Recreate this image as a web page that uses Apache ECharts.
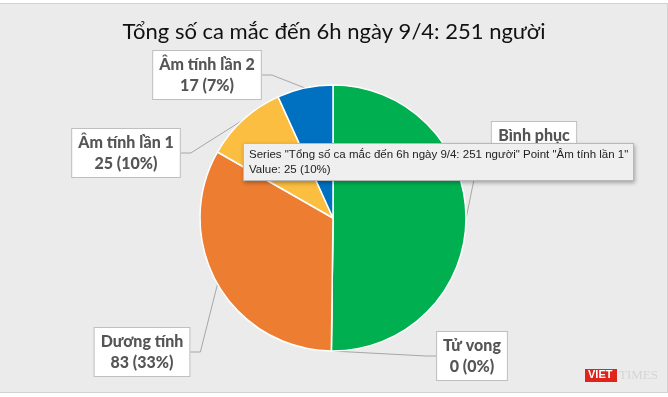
<!DOCTYPE html>
<html>
<head>
<meta charset="utf-8">
<script src="https://cdn.jsdelivr.net/npm/echarts@6/dist/echarts.min.js"></script>
<style>
  html, body { margin: 0; padding: 0; background: #fff; }
  #panel { position: absolute; left: -1px; top: 3px; width: 667px; height: 388px; background: #EBEBEB; border: 1px solid #D2D2D2; }
  #main { position: absolute; left: 0; top: 0; width: 668px; height: 397px; }
</style>
</head>
<body>
<div id="panel"></div>
<div id="main"></div>
<script>
// số liệu
const seriesName = 'Tổng số ca mắc đến 6h ngày 9/4: 251 người';
const categories = ['Bình phục', 'Tử vong', 'Dương tính', 'Âm tính lần 1', 'Âm tính lần 2'];
const values = [126, 0, 83, 25, 17];
const sliceColors = ['#00B050', '#A5A5A5', '#ED7D31', '#FBBE40', '#0070C0'];
const hoverIndex = 3; // tooltip đang hiện

// vị trí nhãn (tâm x, mép trên y)
const labelPos = {
  'Bình phục': [534, 122],
  'Tử vong': [472, 332],
  'Dương tính': [142, 328],
  'Âm tính lần 1': [126, 129],
  'Âm tính lần 2': [207, 51]
};

const pct = v => Math.round(v / values.reduce((a, b) => a + b, 0) * 100);

var chartDom = document.getElementById('main');
var myChart = echarts.init(chartDom);
var option = {
  animation: false,
  title: {
    text: seriesName,
    left: 'center',
    top: 16,
    textStyle: { fontFamily: 'Lato', fontWeight: 'normal', fontSize: 22, color: '#111' }
  },
  tooltip: {
    trigger: 'item',
    triggerOn: 'none',
    alwaysShowContent: true,
    transitionDuration: 0,
    position: [243, 143],
    backgroundColor: '#EFEFEF',
    borderColor: '#B8B8B8',
    borderWidth: 1,
    padding: [3, 5],
    textStyle: { fontFamily: 'Liberation Sans', fontSize: 11.5, color: '#222', lineHeight: 15 },
    extraCssText: 'border-radius:0;box-shadow:1px 2px 4px rgba(0,0,0,0.3);',
    formatter: p => 'Series "' + p.seriesName + '" Point "' + p.name + '"<br/>Value: ' + p.value + ' (' + pct(p.value) + '%)'
  },
  series: [{
    name: seriesName,
    type: 'pie',
    center: [333, 218],
    radius: 133,
    startAngle: 90,
    clockwise: true,
    avoidLabelOverlap: false,
    itemStyle: { borderColor: '#fff', borderWidth: 1.5 },
    label: {
      show: true,
      formatter: p => p.name + '\n' + p.value + ' (' + pct(p.value) + '%)',
      fontFamily: 'Lato',
      fontWeight: 900,
      fontSize: 16,
      lineHeight: 21,
      color: '#555',
      align: 'center',
      backgroundColor: '#fff',
      borderColor: '#BFBFBF',
      borderWidth: 1,
      padding: [3, 6]
    },
    labelLine: { show: true, length: 10, length2: 10, lineStyle: { color: '#A6A6A6', width: 1 } },
    labelLayout: function (params) {
      var pos = labelPos[categories[params.dataIndex]];
      return { x: pos[0], y: pos[1], align: 'center', verticalAlign: 'top' };
    },
    emphasis: { disabled: true },
    data: categories.map((c, i) => ({ name: c, value: values[i], itemStyle: { color: sliceColors[i] } }))
  }],
  graphic: [
    { type: 'rect', left: 585, top: 369, shape: { width: 32, height: 13 }, style: { fill: '#E2231A' } },
    { type: 'text', left: 588, top: 369, style: { text: 'VIET', fill: '#fff', font: 'bold 11px Liberation Sans' } },
    { type: 'text', left: 619, top: 369, style: { text: 'TIMES', fill: '#D5D5D5', font: '13px Liberation Serif' } }
  ]
};
option && myChart.setOption(option);
myChart.dispatchAction({ type: 'showTip', seriesIndex: 0, dataIndex: hoverIndex });
</script>
</body>
</html>
